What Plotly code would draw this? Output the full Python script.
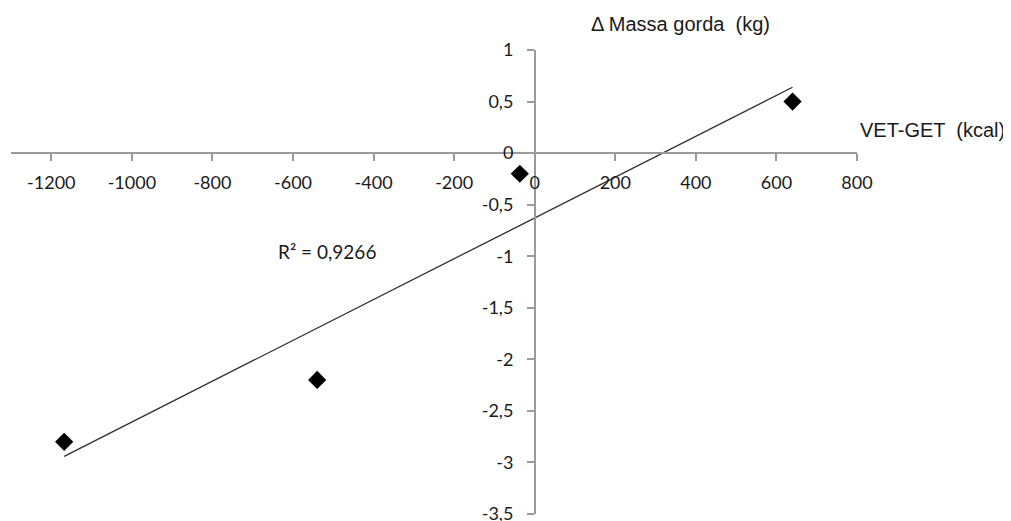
import numpy as np
import plotly.graph_objects as go

# Data
vet_get = [-1168, -540, -37, 640]          # VET-GET (kcal)
massa_gorda = [-2.8, -2.2, -0.2, 0.5]      # Δ Massa gorda (kg)
r2_label = "R² = 0,9266"

x_tickvals = [-1200, -1000, -800, -600, -400, -200, 0, 200, 400, 600, 800]
x_ticktext = ["-1200", "-1000", "-800", "-600", "-400", "-200", "0", "200", "400", "600", "800"]
y_tickvals = [1, 0.5, 0, -0.5, -1, -1.5, -2, -2.5, -3, -3.5]
y_ticktext = ["1", "0,5", "0", "-0,5", "-1", "-1,5", "-2", "-2,5", "-3", "-3,5"]

x_range = [-1300, 800]
y_range = [-3.5, 1]

# Linear trendline (least squares)
slope, intercept = np.polyfit(vet_get, massa_gorda, 1)
tx = np.array([min(vet_get), max(vet_get)])
ty = slope * tx + intercept

fig = go.Figure()
fig.add_trace(go.Scatter(x=tx, y=ty, mode="lines",
                         line=dict(color="#2e2e2e", width=1.3),
                         hoverinfo="skip", showlegend=False))
fig.add_trace(go.Scatter(x=vet_get, y=massa_gorda, mode="markers",
                         marker=dict(symbol="diamond", size=14, color="black"),
                         showlegend=False))

tick_font = dict(family="Lato", size=18, color="#1a1a1a")
title_font = dict(family="Liberation Sans", size=20, color="#1a1a1a")
xpos = (0 - y_range[0]) / (y_range[1] - y_range[0])
ypos = (0 - x_range[0]) / (x_range[1] - x_range[0])

L, R, T, B = 3, 162, 42, 15
W, H = 1011, 521
plot_w = W - L - R

fig.update_layout(
    width=W, height=H,
    margin=dict(l=L, r=R, t=T, b=B),
    paper_bgcolor="white", plot_bgcolor="white",
    xaxis=dict(range=x_range, tickvals=x_tickvals, ticktext=x_ticktext,
               showgrid=False, zeroline=False, showline=True,
               linecolor="#9a9a9a", linewidth=1.5,
               ticks="outside", ticklen=7, tickcolor="#9a9a9a", tickwidth=1.5,
               tickfont=tick_font, anchor="free", position=xpos,
               ticklabelstandoff=7),
    yaxis=dict(range=y_range, tickvals=y_tickvals, ticktext=y_ticktext,
               showgrid=False, zeroline=False, showline=True,
               linecolor="#9a9a9a", linewidth=1.5,
               ticks="outside", ticklen=7, tickcolor="#9a9a9a", tickwidth=1.5,
               tickfont=tick_font, anchor="free", position=ypos,
               ticklabelstandoff=10),
    annotations=[
        dict(text="Δ Massa gorda  (kg)", xref="paper", yref="paper",
             x=(680 - 8 - L) / plot_w, xanchor="center",
             y=1, yshift=26, yanchor="middle",
             showarrow=False, font=title_font),
        dict(text="VET-GET  (kcal)", xref="paper", yref="paper",
             x=1, xanchor="left", xshift=1, y=xpos, yshift=23, yanchor="middle",
             showarrow=False, font=title_font),
        dict(text=r2_label, xref="x", yref="y",
             x=-515, y=-0.955, showarrow=False,
             font=dict(family="Lato", size=19, color="#1a1a1a")),
    ],
)

fig.write_html("out.html")
